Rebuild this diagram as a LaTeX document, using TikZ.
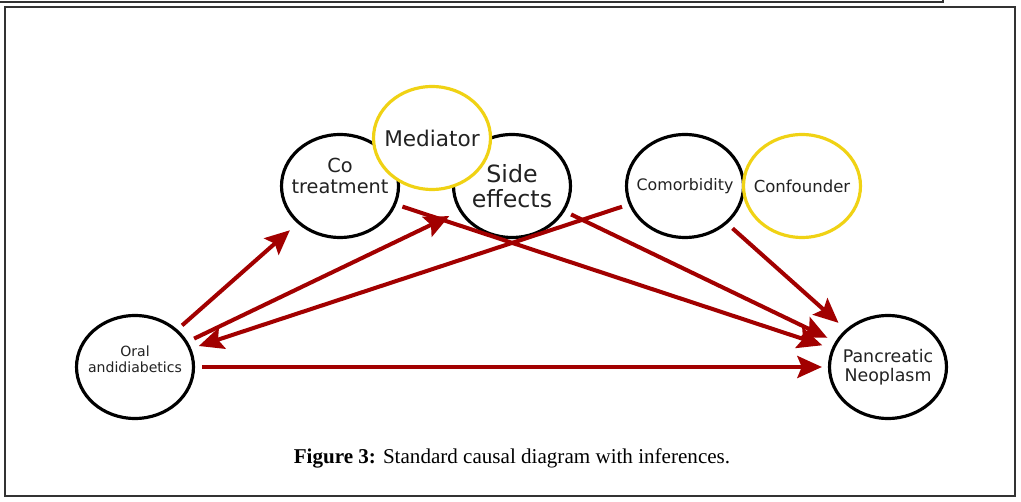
\documentclass[tikz,border=0pt]{standalone}
\usepackage{fontspec}
\setmainfont{Liberation Serif}
\newfontfamily\dejavu{DejaVu Sans}
\usetikzlibrary{arrows.meta,shapes.geometric}
\definecolor{arrowred}{RGB}{162,0,0}
\definecolor{roleyellow}{RGB}{240,210,20}
\definecolor{txtgray}{RGB}{34,34,34}

\begin{document}
\begin{tikzpicture}[x=0.02cm,y=-0.02cm,
  var/.style={ellipse,draw=black,line width=1.8pt,fill=white,
    minimum width=2.34cm,minimum height=2.06cm,inner sep=0pt},
  role/.style={var,draw=roleyellow},
  lbl/.style={align=center,text=txtgray,inner sep=0pt},
  effect/.style={-{Stealth[length=14pt,width=12.5pt,inset=2.5pt]},
    line width=2.3pt,draw=arrowred,shorten <=4pt,shorten >=5pt}]
  \useasboundingbox (0,0) rectangle (1021,502);
  \draw[line width=0.8pt,black!80] (0,2) -- (943,2) -- (943,0);
  \draw[line width=0.8pt,black!80] (5,7) rectangle (1015,496);   % figure frame

  % variables (text as centre labels so the ellipses keep their size)
  \node[var,label={[lbl,yshift=4.5pt,font=\dejavu\fontsize{8}{8.8}\selectfont]center:{Oral\\andidiabetics}}]
    (oral) at (135,367) {};
  \node[var,label={[lbl,yshift=5.5pt,font=\dejavu\fontsize{11}{12}\selectfont]center:{Co\\treatment}}]
    (cotreat) at (340,186) {};
  \node[var,label={[lbl,font=\dejavu\fontsize{13.5}{14.5}\selectfont]center:{Side\\effects}}]
    (side) at (512,186) {};
  \node[role,label={[lbl,font=\dejavu\fontsize{12.3}{13}\selectfont]center:Mediator}]
    (mediator) at (432,138) {};
  \node[var,label={[lbl,font=\dejavu\fontsize{9}{10}\selectfont]center:Comorbidity}]
    (comorb) at (685,186) {};
  \node[role,label={[lbl,font=\dejavu\fontsize{9.4}{10}\selectfont]center:Confounder}]
    (confounder) at (802,186) {};
  \node[var,label={[lbl,font=\dejavu\fontsize{9.9}{10.9}\selectfont]center:{Pancreatic\\Neoplasm}}]
    (panc) at (888,367) {};

  % causal paths
  \draw[effect,shorten <=3.5pt,shorten >=5.8pt] (oral) -- (cotreat);
  \draw[effect,shorten >=6.3pt] (oral) -- (side);
  \draw[effect,shorten >=4.5pt] (comorb) -- (oral);
  \draw[effect,shorten >=3.4pt] (oral) -- (panc);
  \draw[effect,shorten <=3.7pt,shorten >=5.7pt] (cotreat) -- (panc);
  \draw[effect] (side) -- (panc);
  \draw[effect,shorten >=5.5pt] (comorb) -- (panc);

  \node[font=\fontsize{12}{14}\selectfont] (caption) at (512,458)
    {\textbf{Figure 3:} Standard causal diagram with inferences.};
\end{tikzpicture}
\end{document}
